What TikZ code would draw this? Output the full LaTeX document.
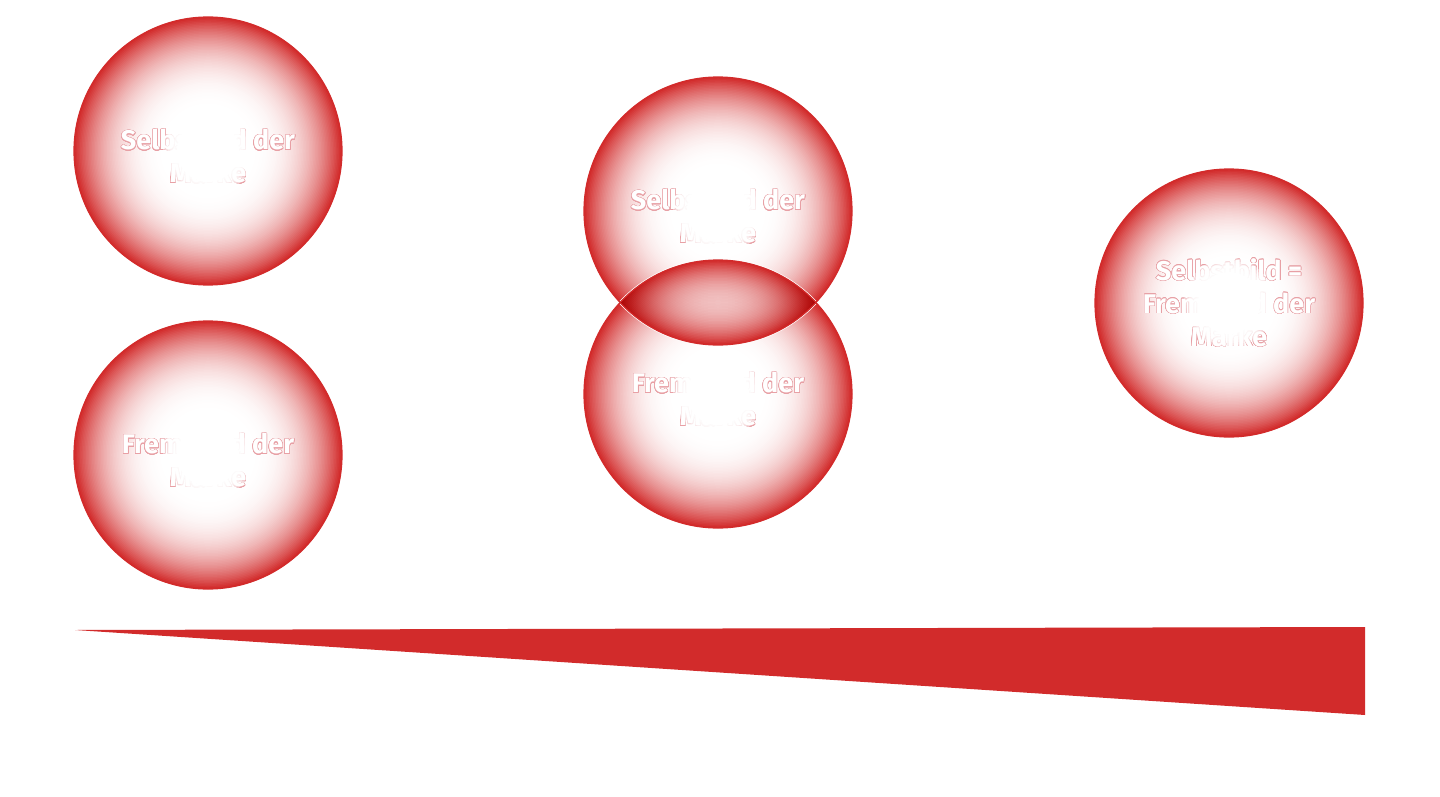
\documentclass[tikz,border=0pt]{standalone}
\usepackage{fontspec}
\setmainfont{Fira Sans}
\usepackage[copies]{contour}
\definecolor{mred}{RGB}{210,43,43}
\definecolor{cpink}{RGB}{232,160,165}
\contourlength{0.55pt}
\contournumber{20}
\tikzset{
  rim/.style={draw=mred, line width=1.2pt},
  seam/.style={draw=white, line width=0.7pt},
  lbl/.style={text=white, font=\fontsize{27}{33}\selectfont\bfseries, align=center, inner sep=0pt},
  clearing/.style={fill=white, opacity=0.4},
}
\newcommand{\ct}[1]{\contour{cpink}{#1}}
% concentric rings forming a radial gradient: white centre, red rim
% #1 centre, #2 exponent of the colour profile
\newcommand{\bubblerings}[2]{%
  \fill[white] (#1) circle (134);
  \foreach \i in {0,...,62}{%
    \pgfmathsetmacro{\tt}{1-\i/90}%
    \pgfmathsetmacro{\pp}{100*pow((\tt-0.3)/0.7,#2)}%
    \fill[mred!\pp] (#1) circle ({134*\tt});
  }%
}
\newcommand{\clearcentre}[1]{%
  \foreach \k in {0,...,5}{\fill[clearing] (#1) circle ({45-2.4*\k});}%
  \fill[white] (#1) circle (31);
}
\begin{document}
\begin{tikzpicture}[x=1pt,y=-1pt]
\useasboundingbox (0,0) rectangle (1440,797);
\coordinate (a1) at (208,151);
\coordinate (a2) at (208,455);
\coordinate (b1) at (718,211);
\coordinate (b2) at (718,394);
\coordinate (c1) at (1229,303);
% left column
\bubblerings{a1}{2.5}
\bubblerings{a2}{2.5}
% middle pair
\bubblerings{b1}{2.5}
\bubblerings{b2}{2.5}
% the lens where they overlap: product of two lighter gradients
\begin{scope}
  \clip (b1) circle (134);
  \clip (b2) circle (134);
  \bubblerings{b1}{3.1}
  \begin{scope}[blend mode=multiply]
    \begin{scope}[transparency group]
      \begin{scope}[blend mode=normal]\bubblerings{b2}{3.1}\end{scope}
    \end{scope}
  \end{scope}
\end{scope}
% thin white seams along the lens boundary
\begin{scope}
  \clip (b2) circle (134);
  \draw[seam] (b1) circle (135);
\end{scope}
\begin{scope}
  \clip (b1) circle (134);
  \draw[seam] (b2) circle (135);
\end{scope}
% right
\bubblerings{c1}{2.5}
% rims
\draw[rim] (a1) circle (134);
\draw[rim] (a2) circle (134);
\draw[rim] (b1) circle (134);
\draw[rim] (b2) circle (134);
\draw[rim] (c1) circle (134);
% labels
\node[lbl] (ta1) at (208,156) {\ct{Selbstbild der}\\\ct{Marke}};
\node[lbl] (ta2) at (208,460) {\ct{Fremdbild der}\\\ct{Marke}};
\node[lbl] (tb1) at (718,216) {\ct{Selbstbild der}\\\ct{Marke}};
\node[lbl] (tb2) at (718,399) {\ct{Fremdbild der}\\\ct{Marke}};
\node[lbl] (tc1) at (1229,303) {\ct{Selbstbild =}\\\ct{Fremdbild der}\\\ct{Marke}};
% white clearing at centres
\clearcentre{a1}
\clearcentre{a2}
\clearcentre{b1}
\clearcentre{b2}
\clearcentre{c1}
% wedge
\coordinate (w1) at (75,630);
\coordinate (w2) at (1365,627);
\coordinate (w3) at (1365,715);
\fill[mred] (w1) -- (w2) -- (w3) -- cycle;
\end{tikzpicture}
\end{document}
